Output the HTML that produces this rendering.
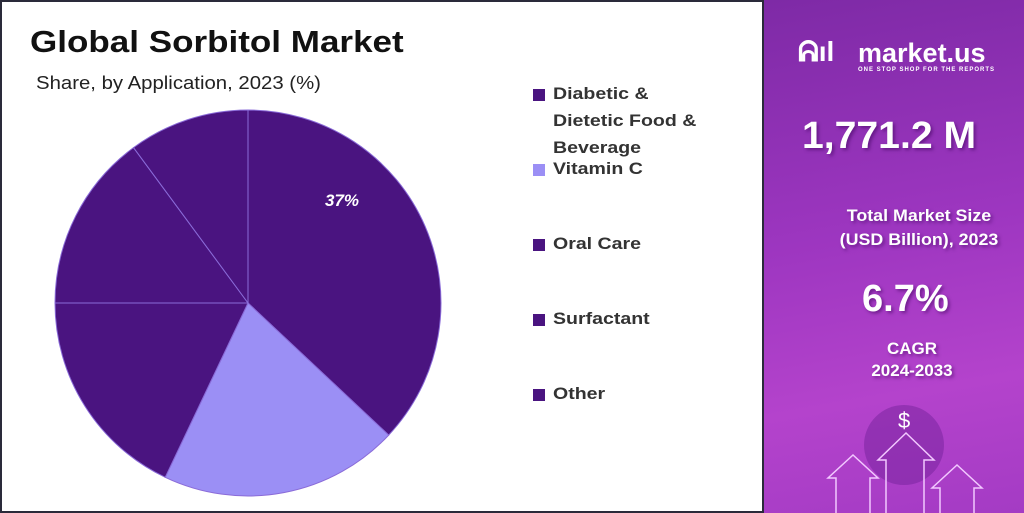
<!DOCTYPE html>
<html><head><meta charset="utf-8"><style>
body{margin:0;width:1024px;height:513px;overflow:hidden;background:#fff;font-family:"Liberation Sans",sans-serif}
.left{position:absolute;left:0;top:0;width:760px;height:509px;border:2px solid #2a2a3a;background:#fff}
.right{position:absolute;left:764px;top:0;width:260px;height:513px;background:linear-gradient(170deg,#7e2aa6 0%,#9d36c0 45%,#b443cc 75%,#a43bc4 100%);color:#fff;text-align:center}
.t{position:absolute;font-weight:bold;white-space:nowrap}
.leg{position:absolute;left:533px;font-size:17px;font-weight:bold;color:#333;line-height:27px}
.leg span.x{display:inline-block;transform:scaleX(1.15);transform-origin:left}
.sq{position:absolute;left:-2px;width:12px;height:12px}
.sh{text-shadow:2px 2px 3px rgba(60,0,90,.5)}
</style></head><body>
<div class="left">
<div class="t" style="left:28px;top:22px;font-size:31px;color:#111;transform:scaleX(1.13);transform-origin:left">Global Sorbitol Market</div>
<div style="position:absolute;left:34px;top:71px;font-size:18px;color:#222;transform:scaleX(1.13);transform-origin:left;white-space:nowrap">Share, by Application, 2023 (%)</div>
<svg style="position:absolute;left:-2px;top:-2px" width="760" height="513">
<g stroke="#8a6bd8" stroke-width="1">
<path d="M248 303 L248 110 A193 193 0 0 1 388.7 435.1Z" fill="#4a1480"/>
<path d="M248 303 L388.7 435.1 A193 193 0 0 1 165.2 477.3Z" fill="#9b8ff5"/>
<path d="M248 303 L165.2 477.3 A193 193 0 0 1 55 303Z" fill="#4a1480"/>
<path d="M248 303 L55 303 A193 193 0 0 1 133.5 147.6Z" fill="#4a1480"/>
<path d="M248 303 L133.5 147.6 A193 193 0 0 1 248 110Z" fill="#4a1480"/>
</g>
<text x="325" y="206" font-family="Liberation Sans" font-style="italic" font-weight="bold" font-size="17" fill="#fff">37%</text>
</svg>
<div class="leg" style="top:78px;padding-left:18px"><span class="sq" style="top:9px;background:#4a1480"></span><span class="x">Diabetic &amp;<br>Dietetic Food &amp;<br>Beverage</span></div>
<div class="leg" style="top:153px;padding-left:18px"><span class="sq" style="top:9px;background:#9b8ff5"></span><span class="x">Vitamin C</span></div>
<div class="leg" style="top:228px;padding-left:18px"><span class="sq" style="top:9px;background:#4a1480"></span><span class="x">Oral Care</span></div>
<div class="leg" style="top:303px;padding-left:18px"><span class="sq" style="top:9px;background:#4a1480"></span><span class="x">Surfactant</span></div>
<div class="leg" style="top:378px;padding-left:18px"><span class="sq" style="top:9px;background:#4a1480"></span><span class="x">Other</span></div>
</div>
<div class="right">
<div class="t" style="left:34px;top:36px;font-size:28px">ᕱıl</div>
<div class="t" style="left:94px;top:38px;font-size:27px">market.us</div>
<div class="t" style="left:94px;top:67px;font-size:6px;letter-spacing:1px">ONE STOP SHOP FOR THE REPORTS</div>
<div class="t sh" style="left:38px;top:115px;font-size:38px;transform:scaleX(1.03);transform-origin:left">1,771.2 M</div>
<div class="t sh" style="left:50px;top:204px;font-size:17px;width:200px;line-height:24px;transform:scaleX(1.05);transform-origin:left">Total Market Size<br>(USD Billion), 2023</div>
<div class="t sh" style="left:98px;top:278px;font-size:38px">6.7%</div>
<div class="t sh" style="left:88px;top:338px;font-size:17px;width:120px;line-height:22px">CAGR<br>2024-2033</div>
<div style="position:absolute;left:100px;top:405px;width:80px;height:80px;border-radius:50%;background:rgba(110,30,150,.45)"></div>
<div style="position:absolute;left:134px;top:408px;font-size:22px">$</div>
<svg style="position:absolute;left:0;top:0" width="260" height="513" fill="none" stroke="#f2c8ff" stroke-width="1.5">
<path d="M72 513 V478 H64 L89 455 L114 478 H106 V513"/>
<path d="M122 513 V460 H114 L142 433 L170 460 H160 V513"/>
<path d="M176 513 V488 H168 L193 465 L218 488 H210 V513"/>
</svg>
</div>
</body></html>
